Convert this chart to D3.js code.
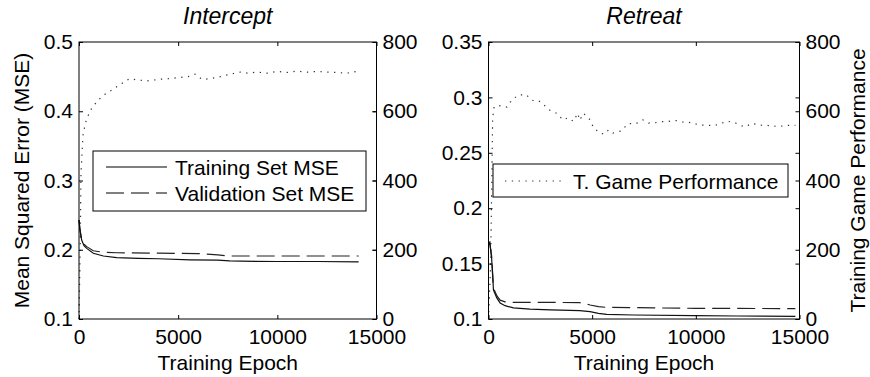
<!DOCTYPE html>
<html>
<head>
<meta charset="utf-8">
<script src="https://cdn.jsdelivr.net/npm/d3@7"></script>
<style>
  body { margin: 0; background: #fff; }
  svg text { font-family: "Liberation Sans", Arial, Helvetica, sans-serif; fill: #000; }
</style>
</head>
<body>
<svg id="chart" width="870" height="377"></svg>
<script>
// --- data ---
const epochTicks = [0, 5000, 10000, 15000];
const perfTicks = [0, 200, 400, 600, 800];
const mseTicksIntercept = [0.1, 0.2, 0.3, 0.4, 0.5];
const mseTicksRetreat = [0.1, 0.15, 0.2, 0.25, 0.3, 0.35];

// Intercept panel: [epoch, value]
const interceptTrain = [[0,0.243],[50,0.228],[135,0.214],[250,0.206],[390,0.202],[720,0.195],[1230,0.191],[1900,0.1885],[3000,0.1875],[4000,0.187],[5600,0.1855],[7000,0.185],[7600,0.184],[8200,0.1835],[10000,0.183],[12000,0.183],[14100,0.1825]];
const interceptValid = [[0,0.243],[50,0.229],[135,0.215],[250,0.208],[390,0.2045],[720,0.1986],[1230,0.1963],[1900,0.1957],[4000,0.195],[6000,0.1945],[7000,0.1925],[7600,0.191],[10000,0.191],[14100,0.191]];
const interceptPerf = [[0,0],[60,200],[100,420],[200,530],[300,560],[390,578],[590,604],[810,621],[1060,637],[1310,649],[1650,661],[1900,671],[2240,683],[2540,694],[3000,690],[3500,688],[4000,692],[4500,694],[5000,697],[5500,700],[5860,707],[6200,692],[6600,694],[7000,698],[7380,704],[7790,709],[8130,713],[8500,710],[9000,713],[9500,710],[10000,715],[10500,712],[11000,716],[11500,713],[12000,715],[12500,713],[13000,712],[13500,710],[14100,716]];

// Retreat panel
const retreatTrain = [[0,0.167],[60,0.169],[150,0.155],[240,0.126],[400,0.119],[560,0.1145],[800,0.112],[1200,0.11],[2000,0.109],[3000,0.1082],[4400,0.1075],[4900,0.1066],[5300,0.105],[5700,0.1042],[7000,0.1036],[9900,0.103],[12000,0.1027],[14800,0.1023]];
const retreatValid = [[0,0.167],[60,0.169],[150,0.157],[240,0.128],[400,0.121],[560,0.117],[800,0.1155],[1200,0.115],[3000,0.115],[4400,0.1147],[4700,0.1138],[4900,0.1126],[5300,0.1112],[5700,0.1105],[8000,0.11],[10000,0.1096],[14800,0.1094]];
const retreatPerf = [[0,0],[100,150],[160,400],[200,580],[270,613],[515,616],[890,612],[1130,633],[1450,647],[1800,648],[2140,631],[2410,631],[2735,615],[2975,602],[3300,594],[3590,575],[3830,581],[4100,571],[4300,594],[4400,574],[4580,594],[4870,577],[5065,553],[5340,538],[5580,534],[5790,546],[6000,537],[6390,543],[6730,564],[7110,564],[7450,575],[7720,566],[8040,567],[8360,570],[8700,571],[9050,573],[9340,569],[9810,567],[10130,561],[10530,559],[10920,559],[11220,565],[11540,571],[11880,567],[12170,559],[12360,555],[12730,565],[13050,560],[13450,559],[13980,556],[14380,559],[14800,559]];

const svg = d3.select('#chart');
const FS = 21;
const DASH = '18,7';
const DOT = '1.3,5.5';

function drawPanel(p) {
  const x = d3.scaleLinear().domain([0, 15000]).range([p.left, p.right]);
  const y = d3.scaleLinear().domain(p.mseDomain).range([p.bottom, p.top]);
  const y2 = d3.scaleLinear().domain([0, 800]).range([p.bottom, p.top]);
  const g = svg.append('g');
  const fmt = d => String(+d.toFixed(2));

  // lines
  const lineMse = d3.line().x(d => x(d[0])).y(d => y(d[1]));
  const linePerf = d3.line().x(d => x(d[0])).y(d => y2(d[1]));

  g.append('path').datum(p.perf).attr('d', linePerf)
   .attr('fill', 'none').attr('stroke', '#333').attr('stroke-width', 1.2)
   .attr('stroke-dasharray', DOT);
  g.append('path').datum(p.valid).attr('d', lineMse)
   .attr('fill', 'none').attr('stroke', '#222').attr('stroke-width', 1.2)
   .attr('stroke-dasharray', DASH);
  g.append('path').datum(p.train).attr('d', lineMse)
   .attr('fill', 'none').attr('stroke', '#111').attr('stroke-width', 1.2);

  // axes (ticks pointing inward)
  const styleAxis = sel => {
    sel.select('.domain').remove();
    sel.selectAll('line').attr('stroke', '#000');
    sel.selectAll('text').style('font-size', FS + 'px')
       .style('font-family', '"Liberation Sans", Arial, sans-serif');
  };
  g.append('g').attr('transform', `translate(${p.left},0)`)
   .call(d3.axisLeft(y).tickValues(p.mseTicks).tickFormat(fmt).tickSizeInner(-4).tickSizeOuter(0).tickPadding(6))
   .call(styleAxis);
  g.append('g').attr('transform', `translate(${p.right},0)`)
   .call(d3.axisRight(y).tickValues(p.mseTicks).tickFormat('').tickSizeInner(-4).tickSizeOuter(0))
   .call(styleAxis);
  g.append('g').attr('transform', `translate(${p.right},0)`)
   .call(d3.axisRight(y2).tickValues(perfTicks).tickSizeInner(-4).tickSizeOuter(0).tickPadding(6))
   .call(styleAxis);
  g.append('g').attr('transform', `translate(0,${p.bottom})`)
   .call(d3.axisBottom(x).tickValues(epochTicks).tickFormat(d3.format('d')).tickSizeInner(-4).tickSizeOuter(0).tickPadding(10))
   .call(styleAxis);
  g.append('g').attr('transform', `translate(0,${p.top})`)
   .call(d3.axisTop(x).tickValues(epochTicks).tickFormat('').tickSizeInner(-4).tickSizeOuter(0))
   .call(styleAxis);

  g.append('rect')
   .attr('x', p.left).attr('y', p.top)
   .attr('width', p.right - p.left).attr('height', p.bottom - p.top)
   .attr('fill', 'none').attr('stroke', '#000').attr('stroke-width', 1);

  // title and labels
  g.append('text')
   .attr('x', (p.left + p.right) / 2).attr('y', 24)
   .attr('text-anchor', 'middle')
   .style('font-size', '23px').style('font-style', 'italic')
   .text(p.title);

  g.append('text')
   .attr('x', (p.left + p.right) / 2).attr('y', 370)
   .attr('text-anchor', 'middle')
   .style('font-size', FS + 'px')
   .text('Training Epoch');

  if (p.yLabelLeft) {
    g.append('text')
     .attr('transform', `translate(29,${(p.top + p.bottom) / 2}) rotate(-90)`)
     .attr('text-anchor', 'middle')
     .style('font-size', FS + 'px')
     .text(p.yLabelLeft);
  }
  if (p.yLabelRight) {
    g.append('text')
     .attr('transform', `translate(865,${(p.top + p.bottom) / 2}) rotate(-90)`)
     .attr('text-anchor', 'middle')
     .style('font-size', FS + 'px')
     .text(p.yLabelRight);
  }

  // legend
  const lg = p.legend;
  g.append('rect')
   .attr('x', lg.x).attr('y', lg.y).attr('width', lg.w).attr('height', lg.h)
   .attr('fill', '#fff').attr('stroke', '#000').attr('stroke-width', 1);
  lg.items.forEach((it, i) => {
    const cy = lg.y + lg.rowStart + i * lg.rowGap;
    g.append('line')
     .attr('x1', lg.x + lg.sampleX0).attr('x2', lg.x + lg.sampleX1)
     .attr('y1', cy).attr('y2', cy)
     .attr('stroke', it.dash === DOT ? '#333' : '#000').attr('stroke-width', 1.2)
     .attr('stroke-dasharray', it.dash || null);
    g.append('text')
     .attr('x', lg.x + lg.textX).attr('y', cy)
     .attr('dy', '0.36em')
     .style('font-size', FS + 'px')
     .text(it.label);
  });
}

drawPanel({
  title: 'Intercept', left: 79, right: 376.5, top: 42, bottom: 319,
  mseDomain: [0.1, 0.5], mseTicks: mseTicksIntercept,
  train: interceptTrain, valid: interceptValid, perf: interceptPerf,
  yLabelLeft: 'Mean Squared Error (MSE)',
  legend: { x: 93, y: 151, w: 273, h: 60, rowStart: 16, rowGap: 26, sampleX0: 13, sampleX1: 74, textX: 82,
            items: [{ label: 'Training Set MSE', dash: null }, { label: 'Validation Set MSE', dash: DASH }] }
});

drawPanel({
  title: 'Retreat', left: 488.5, right: 799.5, top: 42, bottom: 319,
  mseDomain: [0.1, 0.35], mseTicks: mseTicksRetreat,
  train: retreatTrain, valid: retreatValid, perf: retreatPerf,
  yLabelRight: 'Training Game Performance',
  legend: { x: 493, y: 164, w: 295, h: 33, rowStart: 17, rowGap: 26, sampleX0: 12, sampleX1: 72, textX: 80,
            items: [{ label: 'T. Game Performance', dash: DOT }] }
});
</script>
</body>
</html>
